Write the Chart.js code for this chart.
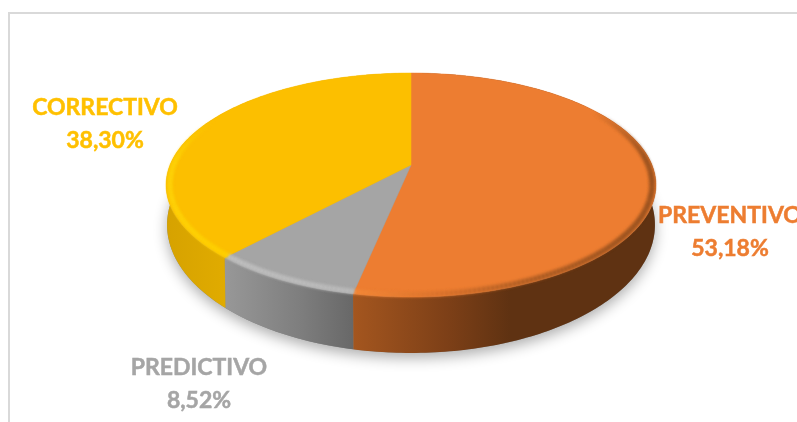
<!DOCTYPE html>
<html lang="es">
<head>
    <meta charset="UTF-8">
    <title>Tipos de mantenimiento</title>
    <script src="https://cdn.jsdelivr.net/npm/chart.js"></script>
    <style>
        html, body { margin: 0; padding: 0; background: #fff; overflow: hidden; }
        #wrap { position: relative; width: 797px; height: 422px; }
        #frame {
            position: absolute; left: 8px; top: 12px; right: 0; bottom: 0;
            border-left: 2px solid #d9d9d9; border-top: 2px solid #d9d9d9;
        }
        #chart { position: absolute; left: 0; top: 0; }
    </style>
</head>
<body>
<div id="wrap">
    <div id="frame"></div>
    <canvas id="chart" width="797" height="422"></canvas>
</div>
<script>
const categories = ['PREVENTIVO', 'PREDICTIVO', 'CORRECTIVO'];
const values = [53.18, 8.52, 38.30];
const colors = ['#ed7d31', '#a5a5a5', '#fcbf00'];
const labelColors = ['#ed7d31', '#a5a5a5', '#ffc000'];
const labelCenters = [[730, 223], [199, 375], [105, 115]];

// wall colours run left to right along each slice
const wallStops = [
    [[353, '#a4561f'], [450, '#7c3f17'], [510, '#5f3212'], [656, '#5f3212']],
    [[224, '#989898'], [300, '#7e7e7e'], [353, '#686868']],
    [[166, '#d6a200'], [224, '#e0ab00']]
];
const rimStops = [
    [[353, '#f58a38'], [440, '#d8712b'], [520, '#a85a22'], [656, '#7a4219']],
    [[224, '#c6c6c6'], [353, '#bdbdbd']],
    [[166, '#ffd90c'], [224, '#ffd400']]
];
const rimFrom = [-0.55, -0.2, -0.45];

// tilted disc: circle on the table seen in perspective
const TOP = { cx: 411, cy: 165, a: 241, b: 108.4, p: 0.1786 };
const BOTTOM = { cx: 411, cy: 202, a: 240, b: 124, p: 0.1786 };

function project(d, angle, r) {
    const u = Math.cos(angle) * r, v = Math.sin(angle) * r;
    const w = 1 - d.p * v;
    return [d.cx + d.a * u / w, d.cy + d.b * v / w];
}

function arcPoints(d, from, to, r) {
    const pts = [];
    const n = Math.max(2, Math.ceil((to - from) * 60));
    for (let i = 0; i <= n; i++) pts.push(project(d, from + (to - from) * i / n, r));
    return pts;
}

function tracePoints(ctx, pts) {
    pts.forEach((p, i) => i ? ctx.lineTo(p[0], p[1]) : ctx.moveTo(p[0], p[1]));
}

function xGradient(ctx, stops) {
    const x0 = stops[0][0], x1 = stops[stops.length - 1][0];
    const g = ctx.createLinearGradient(x0, 0, x1, 0);
    stops.forEach(s => g.addColorStop((s[0] - x0) / (x1 - x0), s[1]));
    return g;
}

const discPlugin = {
    id: 'disc',
    beforeDatasetsDraw(chart) {
        const ctx = chart.ctx;
        const arcs = chart.getDatasetMeta(0).data;

        // soft shadow on the floor
        ctx.save();
        ctx.shadowColor = 'rgba(0,0,0,0.32)';
        ctx.shadowBlur = 14;
        ctx.shadowOffsetY = 5;
        ctx.fillStyle = '#888';
        ctx.beginPath();
        tracePoints(ctx, arcPoints(BOTTOM, 0, Math.PI * 2, 1));
        ctx.closePath();
        ctx.fill();
        ctx.restore();

        // side walls
        arcs.forEach((arc, i) => {
            const upper = arcPoints(TOP, arc.startAngle, arc.endAngle, 1);
            const lower = arcPoints(BOTTOM, arc.startAngle, arc.endAngle, 1).reverse();
            ctx.fillStyle = xGradient(ctx, wallStops[i]);
            ctx.beginPath();
            tracePoints(ctx, upper.concat(lower));
            ctx.closePath();
            ctx.fill();
        });

        // top face
        arcs.forEach((arc, i) => {
            ctx.fillStyle = colors[i];
            ctx.strokeStyle = colors[i];
            ctx.lineWidth = 0.5;
            ctx.beginPath();
            tracePoints(ctx, [[TOP.cx, TOP.cy]].concat(arcPoints(TOP, arc.startAngle, arc.endAngle, 1)));
            ctx.closePath();
            ctx.fill();
            ctx.stroke();
        });

        // bevel along the front edge of each slice, fading in towards the back
        arcs.forEach((arc, i) => {
            const pts = arcPoints(TOP, arc.startAngle, arc.endAngle, 0.985);
            const last = pts.length - 1;
            ctx.save();
            ctx.filter = 'blur(1.8px)';
            ctx.strokeStyle = xGradient(ctx, rimStops[i]);
            ctx.lineWidth = 5;
            for (let k = 0; k < last; k++) {
                const t = arc.startAngle + (arc.endAngle - arc.startAngle) * k / last;
                const alpha = (Math.sin(t) - rimFrom[i]) / 0.45;
                if (alpha <= 0) continue;
                ctx.globalAlpha = Math.min(1, alpha);
                ctx.beginPath();
                tracePoints(ctx, [pts[k], pts[k + 1]]);
                ctx.stroke();
            }
            ctx.restore();
        });

        // value labels
        ctx.font = 'bold 23px Lato';
        ctx.textAlign = 'center';
        ctx.textBaseline = 'alphabetic';
        ctx.lineWidth = 0.5;
        categories.forEach((name, i) => {
            const c = labelCenters[i];
            const pct = values[i].toFixed(2).replace('.', ',') + '%';
            ctx.fillStyle = labelColors[i];
            ctx.strokeStyle = labelColors[i];
            ctx.fillText(name, c[0], c[1]);
            ctx.strokeText(name, c[0], c[1]);
            ctx.fillText(pct, c[0], c[1] + 33);
            ctx.strokeText(pct, c[0], c[1] + 33);
        });
        return false;
    }
};

new Chart(document.getElementById('chart'), {
    type: 'pie',
    data: {
        labels: categories,
        datasets: [{ data: values, backgroundColor: colors, borderWidth: 0 }]
    },
    options: {
        responsive: false,
        animation: false,
        plugins: { legend: { display: false }, tooltip: { enabled: false } }
    },
    plugins: [discPlugin]
});
</script>
</body>
</html>
